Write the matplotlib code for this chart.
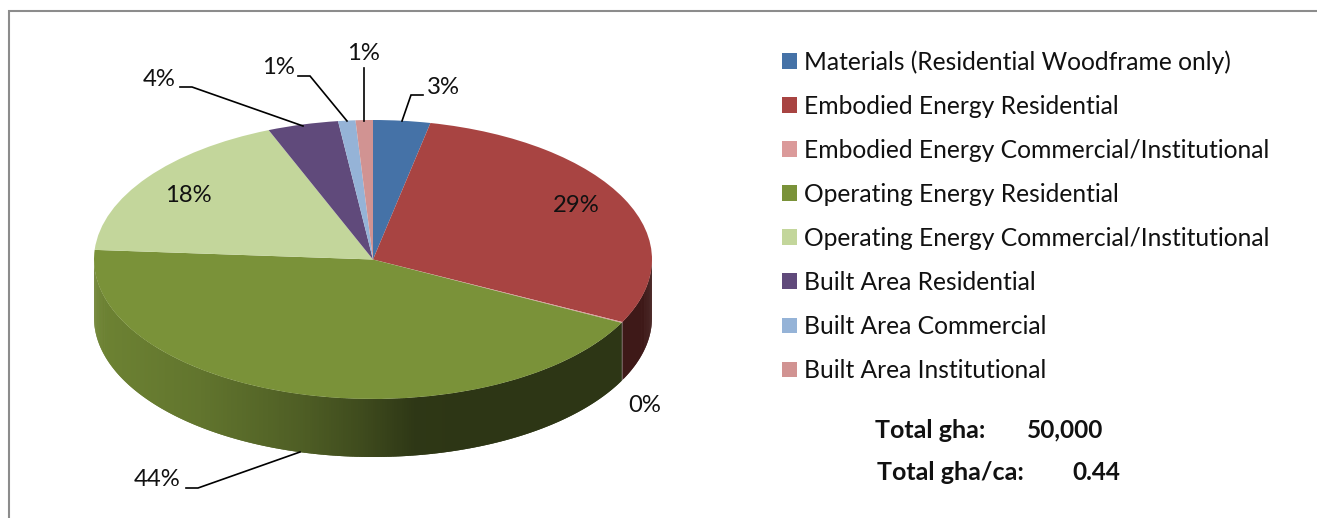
import numpy as np
import matplotlib
matplotlib.use("Agg")
import matplotlib.pyplot as plt
from matplotlib.collections import PolyCollection
from matplotlib.colors import to_rgb

categories = ["Materials (Residential Woodframe only)", "Embodied Energy Residential",
              "Embodied Energy Commercial/Institutional", "Operating Energy Residential",
              "Operating Energy Commercial/Institutional", "Built Area Residential",
              "Built Area Commercial", "Built Area Institutional"]
values = [3.3, 29.1, 0.1, 43.6, 17.8, 4.1, 1.0, 1.0]
colors = ["#4572a7", "#a84442", "#db9a9a", "#7a9239", "#c3d69b", "#604a7b", "#95b3d7", "#d19392"]
totals = [("Total gha:", "50,000"), ("Total gha/ca:", "0.44")]

W, H = 1317, 518
FONT = "Lato"
plt.rcParams["font.family"] = [FONT, "DejaVu Sans"]
fig = plt.figure(figsize=(W / 100, H / 100), dpi=100, facecolor="white")

# pie axes: unit circle maps onto the top ellipse
cx, cy, rx, ry, depth = 373, 259.5, 279, 139.5, 58
ax = fig.add_axes([(cx - rx) / W, 1 - (cy + ry) / H, 2 * rx / W, 2 * ry / H], zorder=2)
ax.patch.set_alpha(0)
wedges, _ = ax.pie(values, colors=colors, startangle=90, counterclock=False, radius=1,
                   wedgeprops={"linewidth": 0})
ax.set_aspect("auto")
ax.set_xlim(-1, 1)
ax.set_ylim(-1, 1)

# extruded side wall, shaded by horizontal position
d = depth / ry
shade_x = [-1.0, -0.62, -0.25, -0.05, 0.15, 0.30, 1.0]
shade_f = [0.90, 0.80, 0.64, 0.52, 0.38, 0.37, 0.37]
total = sum(values)
start = 90.0
for v, c in zip(values, colors):
    end = start - 360 * v / total
    for a, b in [(end, start), (end + 360, start + 360), (end - 360, start - 360)]:
        a2, b2 = max(a, -180), min(b, 0)
        if b2 <= a2:
            continue
        th = np.linspace(a2, b2, max(2, int((b2 - a2) * 2) + 1))
        polys, cols = [], []
        base = np.array(to_rgb(c))
        for i in range(len(th) - 1):
            t0, t1 = np.radians(th[i]), np.radians(th[min(i + 2, len(th) - 1)])
            xm = np.cos(np.radians((th[i] + th[i + 1]) / 2))
            x0, y0, x1, y1 = np.cos(t0), np.sin(t0), np.cos(t1), np.sin(t1)
            polys.append([(x0, y0), (x1, y1), (x1, y1 - d), (x0, y0 - d)])
            cols.append(tuple(base * np.interp(xm, shade_x, shade_f)))
        # strips overlap the next one, so no seams show between them
        ax.add_collection(PolyCollection(polys, facecolors=cols, edgecolors="none",
                                         linewidths=0, clip_on=False, zorder=0))
    start = end

ovtop = fig.add_axes([0, 0, 1, 1], zorder=3)
ovtop.set_xlim(0, W)
ovtop.set_ylim(H, 0)
ovtop.axis("off")
ovtop.plot([9, 9, W], [H, 10.5, 10.5], color="#8c8c8c", lw=1.5, solid_joinstyle="miter")

# percentage labels
label_pos = [(443, 87), (576, 206), (645, 405), (157, 479), (188, 195), (159, 79), (278, 68), (363, 54)]
for v, (x, y) in zip(values, label_pos):
    ovtop.text(x, y, f"{v:.0f}%", fontsize=17.2, ha="center", va="center", color="#111111")

leaders = [[(423, 95), (411, 95), (402, 121)],
           [(186, 488), (198, 488), (300, 452)],
           [(180, 87), (192, 87), (303, 126)],
           [(298, 76), (310, 76), (347, 121)],
           [(364, 68), (364, 121)]]
for pts in leaders:
    xs, ys = zip(*pts)
    ovtop.plot(xs, ys, color="black", lw=1.2, solid_joinstyle="miter")

# legend
leg = ovtop.legend(wedges, categories, loc="upper left",
                   bbox_to_anchor=(782 / W, 1 - 50 / H), bbox_transform=fig.transFigure,
                   frameon=False, fontsize=17.7, handlelength=0.6, handleheight=0.6,
                   handletextpad=0.285, labelspacing=0.857, borderpad=0, borderaxespad=0)
for t in leg.get_texts():
    t.set_color("#111111")

# totals
for (name, val), xn, xv, y in zip(totals, (930, 950), (1065, 1096.5), (430, 473)):
    ovtop.text(xn, y, name, fontsize=18, fontweight="bold", ha="center", va="center", color="#111111")
    ovtop.text(xv, y, val, fontsize=17.6, fontweight="bold", ha="center", va="center", color="#111111")

fig.savefig("out.png", dpi=100)
